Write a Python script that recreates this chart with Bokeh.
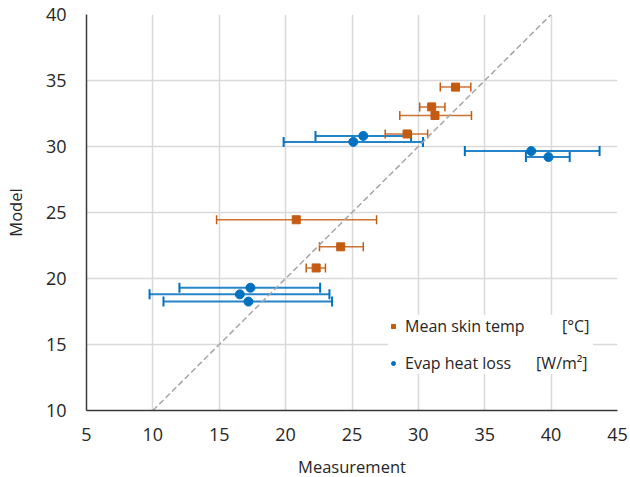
from bokeh.plotting import figure
from bokeh.models import (Range1d, FixedTicker, Whisker, TeeHead, ColumnDataSource,
                          Legend, LegendItem)
from bokeh.embed import file_html
from bokeh.resources import INLINE

# ---- data ----
skin_meas = [32.8, 31.0, 31.25, 29.15, 20.8, 24.15, 22.3]
skin_model = [34.5, 33.0, 32.35, 30.95, 24.45, 22.4, 20.8]
skin_lo = [31.65, 30.1, 28.6, 27.5, 14.8, 22.55, 21.55]
skin_hi = [33.95, 32.0, 34.0, 30.7, 26.85, 25.85, 23.0]

evap_meas = [25.85, 25.1, 38.5, 39.8, 17.35, 16.55, 17.2]
evap_model = [30.8, 30.35, 29.65, 29.2, 19.3, 18.8, 18.25]
evap_lo = [22.25, 19.85, 33.5, 38.1, 12.0, 9.75, 10.8]
evap_hi = [29.45, 30.35, 43.65, 41.4, 22.6, 23.3, 23.5]

diag = [10, 40]
x_ticks = [5, 10, 15, 20, 25, 30, 35, 40, 45]
y_ticks = [10, 15, 20, 25, 30, 35, 40]
series_names = ["Mean skin temp", "Evap heat loss"]
series_units = ["[°C]", "[W/m²]"]

ORANGE = "#C55A11"
BLUE = "#0070C0"
FONT = "Open Sans"
TXT = "#262626"
NB = "\u00a0"

p = figure(frame_width=531, frame_height=396, output_backend="svg", toolbar_location=None,
           x_range=Range1d(5, 45), y_range=Range1d(10, 40),
           min_border_left=86, min_border_right=13, min_border_top=14, min_border_bottom=67)
p.outline_line_color = None
p.background_fill_color = "white"
p.title.visible = False

for ax, ticks in ((p.xaxis[0], x_ticks), (p.yaxis[0], y_ticks)):
    ax.ticker = FixedTicker(ticks=ticks)
    ax.major_tick_out = 0
    ax.major_tick_in = 0
    ax.minor_tick_out = 0
    ax.minor_tick_in = 0
    ax.axis_line_color = "#3a3a3a"
    ax.axis_line_width = 1.5
    ax.major_label_text_font = FONT
    ax.major_label_text_font_size = "18px"
    ax.major_label_text_color = TXT
    ax.axis_label_text_font = FONT
    ax.axis_label_text_font_size = "16.5px"
    ax.axis_label_text_font_style = "normal"
    ax.axis_label_text_color = TXT

p.xaxis.axis_label = "Measurement"
p.yaxis.axis_label = "Model"
p.xaxis.major_label_standoff = 17
p.xaxis.axis_label_standoff = 11
p.yaxis.major_label_standoff = 20
p.yaxis.axis_label_standoff = 16
p.yaxis.major_label_orientation = "horizontal"

p.xgrid.ticker = FixedTicker(ticks=x_ticks)
p.ygrid.ticker = FixedTicker(ticks=y_ticks)
p.grid.grid_line_color = "#D9D9D9"
p.grid.grid_line_width = 1.5

# diagonal 1:1 line
p.line(diag, diag, line_color="#A6A6A6", line_width=1.5, line_dash="6 3")

src_s = ColumnDataSource(dict(x=skin_meas, y=skin_model, lo=skin_lo, hi=skin_hi))
src_e = ColumnDataSource(dict(x=evap_meas, y=evap_model, lo=evap_lo, hi=evap_hi))

for src, col, w, hs in ((src_e, BLUE, 2, 10), (src_s, ORANGE, 1.5, 9)):
    p.add_layout(Whisker(source=src, base="y", lower="lo", upper="hi", dimension="width",
                         line_color=col, line_width=w, line_alpha=0.85,
                         lower_head=TeeHead(size=hs, line_color=col, line_width=w),
                         upper_head=TeeHead(size=hs, line_color=col, line_width=w)))

r_e = p.scatter("x", "y", source=src_e, marker="circle", size=9,
                fill_color=BLUE, line_color=BLUE, level="overlay")
r_s = p.scatter("x", "y", source=src_s, marker="square", size=8,
                fill_color=ORANGE, line_color=ORANGE, level="overlay")

labels = [series_names[0] + NB * 9 + series_units[0],
          series_names[1] + NB * 6 + series_units[1]]

legend = Legend(items=[LegendItem(label=labels[0], renderers=[r_s]),
                       LegendItem(label=labels[1], renderers=[r_e])],
                location=(302, 36), padding=8, spacing=15,
                glyph_width=10, glyph_height=14, label_standoff=7,
                label_width=188, label_height=20,
                label_text_font=FONT, label_text_font_size="16px",
                label_text_color=TXT,
                background_fill_color="white", background_fill_alpha=1.0,
                border_line_color=None)
p.add_layout(legend)

open("out.html", "w").write(file_html(p, INLINE))
